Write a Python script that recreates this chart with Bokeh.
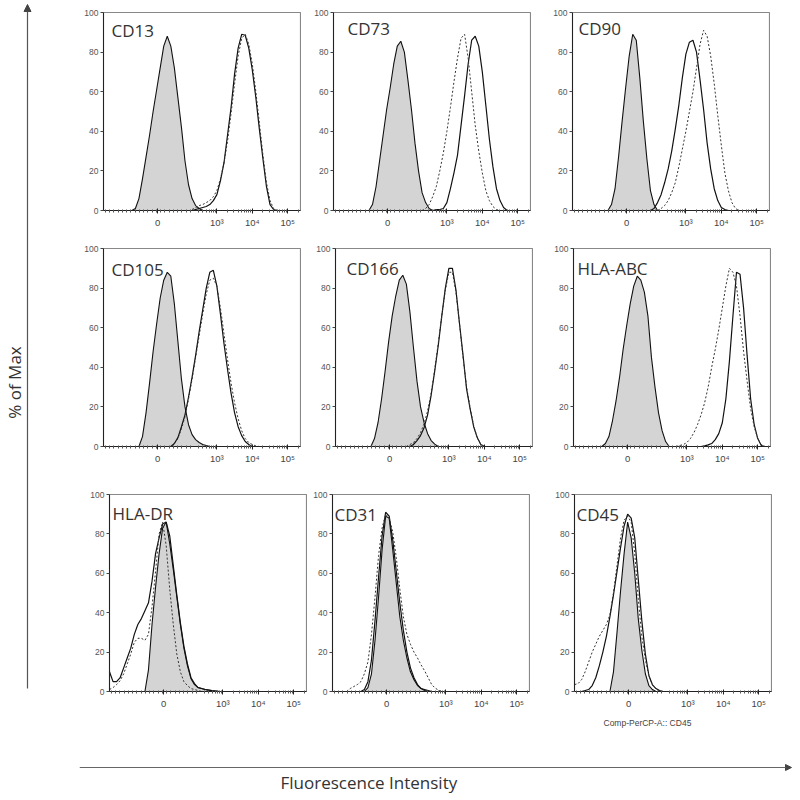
import math
from bokeh.plotting import figure
from bokeh.layouts import row, column
from bokeh.models import Range1d, FixedTicker, Label, Arrow, NormalHead, Title, Spacer
from bokeh.embed import file_html
from bokeh.resources import INLINE

# ---------------- data (display units on a biexponential axis; y = % of max) -------------
BIN = 0.1                     # histogram bin width in display units
x_tick_pos = [1.33, 3.0, 4.0, 5.0]
x_tick_labels = ["0", "10³", "10⁴", "10⁵"]
y_ticks = [0, 20, 40, 60, 80, 100]
panel_names = ["CD13", "CD73", "CD90", "CD105", "CD166", "HLA-ABC", "HLA-DR", "CD31", "CD45"]

# each curve: (first bin centre, % of max per bin)
cd13_iso = (0.6, [0, 1, 6, 16, 27, 38, 50, 61, 72, 83, 88, 83, 72, 57, 42, 25, 13, 6, 2.5, 1, 0])
cd13_solid = (2.3, [0, 0.5, 1, 1.5, 2, 3, 5, 8, 15, 24, 38, 52, 69, 82, 89, 88.5, 82, 71, 57, 41, 26, 12, 3, 0.5, 0])
cd13_dash = (2.3, [0.5, 1.5, 2.5, 3, 4, 5, 7, 10, 16, 24, 35, 49, 64, 78, 87, 89, 84, 74, 60, 44, 28, 14, 5, 1, 0])

cd73_iso = (0.8, [0, 3, 12, 25, 38, 51, 62, 74, 83, 85.5, 80, 66, 51, 34, 20, 9, 4, 1, 0])
cd73_solid = (2.6, [0, 0.5, 0.5, 1, 4, 11, 19, 28, 43, 58, 74, 86, 88, 83, 70, 53, 36, 22, 11, 5, 1.5, 0])
cd73_dash = (2.3, [0, 1, 3, 7, 12, 20, 29, 40, 52, 65, 77, 87, 89, 77, 60, 43, 30, 19, 10, 5, 2, 0.5, 0])

cd90_iso = (0.8, [0, 3, 11, 27, 45, 62, 78, 89, 86, 67, 45, 26, 10, 3, 0])
cd90_solid = (2.0, [0, 1, 4, 8, 14, 21, 30, 41, 53, 67, 79, 85, 86, 80, 66, 51, 34, 21, 11, 5, 1.5, 0.5, 0])
cd90_dash = (2.2, [0, 1, 2.5, 5, 9, 14, 22, 31, 40, 50, 60, 72, 84, 91, 88, 78, 64, 48, 33, 19, 10, 4, 1, 0])

cd105_iso = (0.8, [0, 5, 17, 32, 48, 62, 75, 84, 88, 86, 72, 53, 34, 20, 11, 6, 3.5, 2, 1, 0.5, 0])
cd105_solid = (1.7, [0, 1.5, 4.5, 10, 16, 25, 35, 46, 58, 69, 80, 88, 89, 81, 67, 52, 39, 27, 17, 10, 5.5, 2.5, 1, 0])
cd105_dash = (1.7, [0, 1.5, 4, 9, 15, 24, 34, 45, 56, 67, 77, 84, 85, 81, 70, 57, 44, 32, 22, 14, 8, 4, 2, 1, 0.3, 0])

cd166_iso = (0.8, [0, 4, 12, 24, 38, 53, 66, 76, 84, 86.5, 82, 68, 50, 33, 20, 12, 6.5, 3, 1.2, 0])
cd166_solid = (1.9, [0, 1, 3, 5.5, 9.5, 16, 26, 38, 51, 66, 80, 90, 90, 79, 62, 46, 29, 19, 10, 4.5, 1, 0])
cd166_dash = (1.8, [0, 1, 2, 4, 7, 11.5, 18, 27, 39, 52, 66, 79, 88, 88, 78, 62, 45, 30, 19.5, 10.5, 4.5, 1.2, 0])

hlaabc_iso = (0.6, [0, 1.5, 5, 13, 23, 35, 49, 61, 72, 81, 86, 84, 78, 66, 45, 30, 17, 8, 2.5, 0])
hlaabc_solid = (3.4, [0, 0.3, 0.8, 1.5, 3.5, 6.5, 12, 24, 43, 66, 88, 87, 70, 46, 24, 11, 4, 0.5, 0])
hlaabc_dash = (2.7, [0, 0.5, 1, 2, 4, 7, 11, 16, 22, 30, 40, 49, 59, 70, 81, 90, 88, 81, 66, 48, 33, 19, 10, 4, 1, 0])

hladr_iso = (0.8, [0, 11, 34, 53, 70, 83, 86, 75, 62, 48, 34, 22, 13, 6.5, 3.5, 2, 1.5, 1, 0.7, 0.4, 0.2, 0])
hladr_solid = (-0.2, [10, 5, 5, 7, 12, 17, 22, 29, 34, 37, 41, 45, 56, 70, 78, 85, 86, 79, 64, 49, 35, 23, 14, 7, 4, 2, 1.5, 1, 0.7, 0.4, 0.2, 0])
hladr_dash = (-0.2, [1, 2, 3.5, 5.5, 9, 14, 19, 25, 27, 27, 26, 29, 43, 61, 80, 86, 74, 52, 34, 19, 10, 5, 3, 1.5, 1, 0.5, 0])

cd31_iso = (0.7, [0, 2, 9, 26, 48, 72, 89, 88, 72, 55, 38, 26, 17, 10, 6, 3, 1.5, 1, 0.5, 0])
cd31_solid = (0.6, [0, 1, 5, 16, 36, 58, 79, 91, 89, 77, 61, 45, 31, 20, 12, 7, 3.5, 1.5, 0.5, 0])
cd31_dash = (0.2, [0, 1.5, 2.5, 3.5, 5, 9, 15, 29, 48, 69, 83, 90, 88, 81, 68, 52, 38, 29, 24, 20, 17, 13.5, 10.5, 7, 3.5, 1.7, 0.6, 0])

cd45_iso = (0.8, [0, 10, 30, 51, 70, 86, 78, 60, 37, 21, 9, 3, 1, 0])
cd45_solid = (0.0, [0, 0.5, 1, 3, 7, 13, 20, 28, 38, 49, 61, 73, 84, 90, 88, 78, 57, 36, 19, 8, 3.4, 1.5, 0.5, 0])
cd45_dash = (-0.2, [3.5, 4, 6, 10, 15, 20, 24, 28, 31, 34, 39, 50, 64, 78, 87, 89, 86, 70, 47, 28, 16, 8, 3.5, 1.2, 0.3, 0])

curves = [
    (cd13_iso, cd13_solid, cd13_dash), (cd73_iso, cd73_solid, cd73_dash), (cd90_iso, cd90_solid, cd90_dash),
    (cd105_iso, cd105_solid, cd105_dash), (cd166_iso, cd166_solid, cd166_dash), (hlaabc_iso, hlaabc_solid, hlaabc_dash),
    (hladr_iso, hladr_solid, hladr_dash), (cd31_iso, cd31_solid, cd31_dash), (cd45_iso, cd45_solid, cd45_dash),
]

# ---------------- layout / style ----------------
X_START, X_END = -0.2, 5.36
FW = 197
ML, MR = 24, 1
row_top = [12, 4, 4]
row_frame_h = [198, 198, 197]
row_bottom = [34, 44, 59]
row_frame_lefts = [[103, 333, 572], [103, 335, 573], [109, 332, 574]]   # page px
ROW_START = 79
label_off = [(8, 18), (14, 16), (6, 16), (8, 21), (11, 20), (4, 20), (3, 19), (2, 20), (2, 20)]

log_minor = [round(n + math.log10(k), 4) for n in (2, 3, 4, 5) for k in range(2, 10)]
minor = [t for t in log_minor if 2.35 < t < X_END] + [round(-0.15 + 0.12 * i, 3) for i in range(21)]

TICK_FONT = "Liberation Sans"


def bins(curve):
    start, vals = curve
    return [round(start + i * BIN, 3) for i in range(len(vals))], vals


def make_panel(idx, top, frame_h, bottom):
    name = panel_names[idx]
    iso, solid, dash = curves[idx]
    p = figure(width=ML + FW + MR, height=top + frame_h + bottom, title=None,
               x_range=Range1d(X_START, X_END), y_range=Range1d(0, 100),
               min_border_left=ML, min_border_right=MR, min_border_top=top, min_border_bottom=bottom,
               toolbar_location=None, output_backend="svg")
    p.xgrid.visible = False
    p.ygrid.visible = False
    p.outline_line_color = "#888888"
    p.outline_line_width = 1.2
    p.background_fill_color = "white"
    p.border_fill_color = "white"

    xi, yi = bins(iso)
    p.patch(x=[xi[0]] + xi + [xi[-1]], y=[0] + yi + [0], fill_color="#d4d4d4",
            line_color="#111111", line_width=1.1)
    xs, ys = bins(solid)
    p.line(x=xs, y=ys, line_color="#111111", line_width=1.2)
    xd, yd = bins(dash)
    p.line(x=xd, y=yd, line_color="#333333", line_width=1.0, line_dash="2 2")

    dx, dy = label_off[idx]
    p.add_layout(Label(x=X_START + dx / FW * (X_END - X_START), y=100 - dy / frame_h * 100,
                       text=name, text_font="Open Sans", text_font_size="17px",
                       text_color="#333333", text_align="left", text_baseline="alphabetic"))

    xa = p.xaxis[0]
    xa.ticker = FixedTicker(ticks=x_tick_pos, minor_ticks=minor)
    xa.major_label_overrides = {t: l for t, l in zip(x_tick_pos, x_tick_labels)}
    xa.major_label_text_font = TICK_FONT
    xa.major_label_text_font_size = "9.5px"
    xa.major_label_text_color = "#444444"
    xa.major_label_standoff = 3
    xa.major_tick_in = 2
    xa.major_tick_out = 3
    xa.minor_tick_in = 1
    xa.minor_tick_out = 2
    xa.axis_line_color = "#222222"
    xa.major_tick_line_color = "#222222"
    xa.minor_tick_line_color = "#555555"

    ya = p.yaxis[0]
    ya.ticker = FixedTicker(ticks=y_ticks, minor_ticks=[])
    ya.major_label_text_font = TICK_FONT
    ya.major_label_text_font_size = "8.5px"
    ya.major_label_text_color = "#555555"
    ya.major_label_standoff = 2
    ya.major_tick_in = 0
    ya.major_tick_out = 3
    ya.axis_line_color = "#222222"
    ya.major_tick_line_color = "#444444"

    if name == "CD45":
        p.add_layout(Title(text="Comp-PerCP-A:: CD45", align="left", offset=29,
                           text_font=TICK_FONT, text_font_size="8.5px", text_font_style="normal",
                           text_color="#444444", standoff=9), "below")
    return p


rows = []
for r in range(3):
    h = row_top[r] + row_frame_h[r] + row_bottom[r]
    items = []
    cur = ROW_START
    for c in range(3):
        start = row_frame_lefts[r][c] - ML
        gap = start - cur
        if gap > 0:
            items.append(Spacer(width=gap, height=h))
        items.append(make_panel(r * 3 + c, row_top[r], row_frame_h[r], row_bottom[r]))
        cur = start + ML + FW + MR
    rows.append(row(*items))

TOTAL_H = 798
LEFT_W = ROW_START
BOTTOM_W = 792 - LEFT_W
BOTTOM_H = TOTAL_H - sum(row_top[r] + row_frame_h[r] + row_bottom[r] for r in range(3))

# left strip: vertical arrow + "% of Max"
lf = figure(width=LEFT_W, height=TOTAL_H, x_range=Range1d(0, LEFT_W), y_range=Range1d(0, TOTAL_H),
            x_axis_location=None, y_axis_location=None, min_border=0, title=None,
            toolbar_location=None, output_backend="svg")
lf.grid.visible = False
lf.outline_line_color = None
lf.add_layout(Arrow(end=NormalHead(size=7, fill_color="#444444", line_color="#444444"),
                    x_start=27, y_start=TOTAL_H - 688, x_end=27, y_end=TOTAL_H - 4,
                    line_color="#555555", line_width=1.2))
lf.add_layout(Label(x=14, y=TOTAL_H - 382, text="% of Max", angle=math.pi / 2,
                    text_align="center", text_baseline="middle", text_font="Open Sans",
                    text_font_size="17px", text_color="#333333"))

# bottom strip: horizontal arrow + "Fluorescence Intensity"
bf = figure(width=BOTTOM_W, height=BOTTOM_H, x_range=Range1d(0, BOTTOM_W), y_range=Range1d(0, BOTTOM_H),
            x_axis_location=None, y_axis_location=None, min_border=0, title=None,
            toolbar_location=None, output_backend="svg")
bf.grid.visible = False
bf.outline_line_color = None
bf.add_layout(Arrow(end=NormalHead(size=6, fill_color="#444444", line_color="#444444"),
                    x_start=0, y_start=BOTTOM_H - 17, x_end=BOTTOM_W - 1, y_end=BOTTOM_H - 17,
                    line_color="#666666", line_width=1.2))
bf.add_layout(Label(x=201, y=BOTTOM_H - 32, text="Fluorescence Intensity", text_align="left",
                    text_baseline="middle", text_font="Open Sans", text_font_size="17px",
                    text_color="#333333"))

layout = row(lf, column(*rows, bf))
open("out.html", "w").write(file_html(layout, INLINE))
